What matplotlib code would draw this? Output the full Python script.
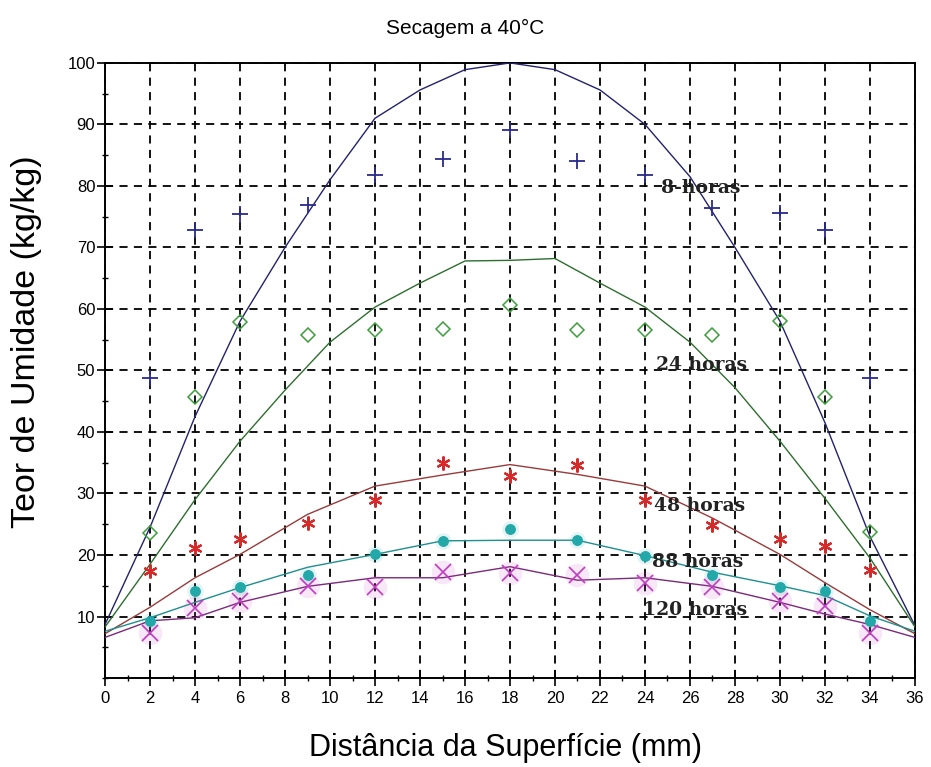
import numpy as np
import matplotlib
matplotlib.use("Agg")
import matplotlib.pyplot as plt
from matplotlib.ticker import MultipleLocator

# measured moisture content at each depth (kg/kg)
x_exp = [2, 4, 6, 9, 12, 15, 18, 21, 24, 27, 30, 32, 34]
exp_8h = [48.7, 72.9, 75.5, 76.9, 81.8, 84.4, 89.1, 84.1, 81.8, 76.4, 75.6, 72.9, 48.7]
exp_24h = [23.5, 45.7, 57.9, 55.8, 56.5, 56.7, 60.6, 56.6, 56.5, 55.8, 58.1, 45.7, 23.8]
exp_48h = [17.4, 21.2, 22.6, 25.2, 29.0, 35.0, 32.8, 34.7, 29.0, 24.9, 22.6, 21.5, 17.6]
exp_88h = [9.2, 14.1, 14.8, 16.8, 20.1, 22.2, 24.3, 22.5, 19.9, 16.8, 14.8, 14.1, 9.2]
exp_120h = [7.4, 11.4, 12.5, 14.9, 14.8, 17.2, 17.1, 16.8, 15.4, 14.8, 12.5, 11.7, 7.4]

# simulated profiles
x_mod_a = [0, 2, 4, 6, 8, 10, 12, 14, 16, 18, 20, 22, 24, 26, 28, 30, 32, 34, 36]
mod_8h = [8.7, 24.5, 42.5, 58.0, 70.0, 81.0, 91.0, 95.6, 98.9, 100.0, 98.9, 95.6, 90.0,
          81.5, 70.0, 58.0, 41.5, 23.0, 8.5]
mod_24h = [8.3, 18.5, 29.0, 38.5, 46.8, 54.6, 60.3, 64.2, 67.8, 67.9, 68.2, 64.2, 60.3,
           54.6, 47.2, 38.5, 29.2, 19.5, 8.3]
x_mod_b = [0, 2, 4, 6, 9, 12, 15, 18, 21, 24, 27, 30, 32, 34, 36]
mod_48h = [7.2, 11.5, 16.3, 20.1, 26.6, 31.2, 33.0, 34.7, 33.1, 31.2, 26.0, 20.1, 15.5, 11.1, 7.2]
mod_88h = [7.6, 9.8, 12.3, 14.7, 18.0, 20.1, 22.3, 22.4, 22.4, 19.9, 17.2, 15.0, 13.4, 10.1, 7.6]
mod_120h = [6.6, 9.3, 9.8, 12.3, 14.9, 16.3, 16.3, 18.1, 15.9, 16.3, 14.9, 12.3, 10.4, 8.7, 6.6]

labels = ["8-horas", "24 horas", "48 horas", "88 horas", "120 horas"]
label_x = [24.7, 24.5, 24.4, 24.3, 23.9]
label_y = [78.9, 50.0, 27.1, 18.0, 10.3]

fig = plt.figure(figsize=(9.31, 7.67), dpi=100)
ax = fig.add_axes([0.1128, 0.116, 0.870, 0.802])

sans = ["Liberation Sans", "DejaVu Sans"]

series = [
    (mod_8h, x_mod_a, exp_8h, "#22226e", "#2a2a8a", "+", 11, 1.3, "none"),
    (mod_24h, x_mod_a, exp_24h, "#2e6e2e", "#3e9e3e", "D", 7, 1.1, "none"),
    (mod_48h, x_mod_b, exp_48h, "#9a3a3a", "#d42a2a", (6, 2, 0), 10, 1.6, "none"),
    (mod_88h, x_mod_b, exp_88h, "#1f8f8f", "#22a8a8", "o", 7, 0.8, "#22a8a8"),
    (mod_120h, x_mod_b, exp_120h, "#7a2a7a", "#c03cc0", "x", 12, 1.2, "none"),
]

for mod, xm, exp, lc, mc, mk, ms, mew, mfc in series:
    ax.plot(xm, mod, color=lc, lw=1.0, zorder=3)
    if mk in ("o", "x"):
        # soft halo around the round / cross markers
        ax.plot(x_exp, exp, ls="none", marker="o", ms=ms + 5, mfc=mc, mec="none",
                alpha=0.12, zorder=3)
    ax.plot(x_exp, exp, ls="none", marker=mk, ms=ms, mec=mc, mfc=mfc, mew=mew, zorder=4)

for txt, tx, ty in zip(labels, label_x, label_y):
    ax.text(tx, ty, txt, family=["DejaVu Serif"], fontsize=13.5, fontweight="bold",
            color="#222222", ha="left", va="baseline", zorder=5)

ax.set_xlim(0, 36)
ax.set_ylim(0, 100)
ax.xaxis.set_major_locator(MultipleLocator(2))
ax.xaxis.set_minor_locator(MultipleLocator(1))
ax.set_yticks(np.arange(10, 101, 10))
ax.yaxis.set_minor_locator(MultipleLocator(5))
ax.tick_params(which="major", direction="inout", length=12, width=1.2, labelsize=12)
ax.tick_params(axis="x", which="major", pad=3)
ax.tick_params(axis="y", which="major", pad=1)
ax.tick_params(which="minor", direction="inout", length=5, width=1.0)
for lab in ax.get_xticklabels() + ax.get_yticklabels():
    lab.set_family(sans)

ax.grid(True, which="major", color="black", lw=1.3, ls=(0, (4.5, 3.5)), zorder=1)
ax.set_axisbelow(True)
for sp in ax.spines.values():
    sp.set_linewidth(1.4)

fig.text(0.5, 1 - 28 / 767, "Secagem a 40°C", family=sans, fontsize=15,
         ha="center", va="center")
ax.set_xlabel("Distância da Superfície (mm)", family=sans, fontsize=22)
ax.set_ylabel("Teor de Umidade (kg/kg)", family=sans, fontsize=24.5)
ax.xaxis.set_label_coords(0.494, -0.089)
ax.yaxis.set_label_coords(-0.078, 0.546)

fig.savefig("out.png", dpi=100)
